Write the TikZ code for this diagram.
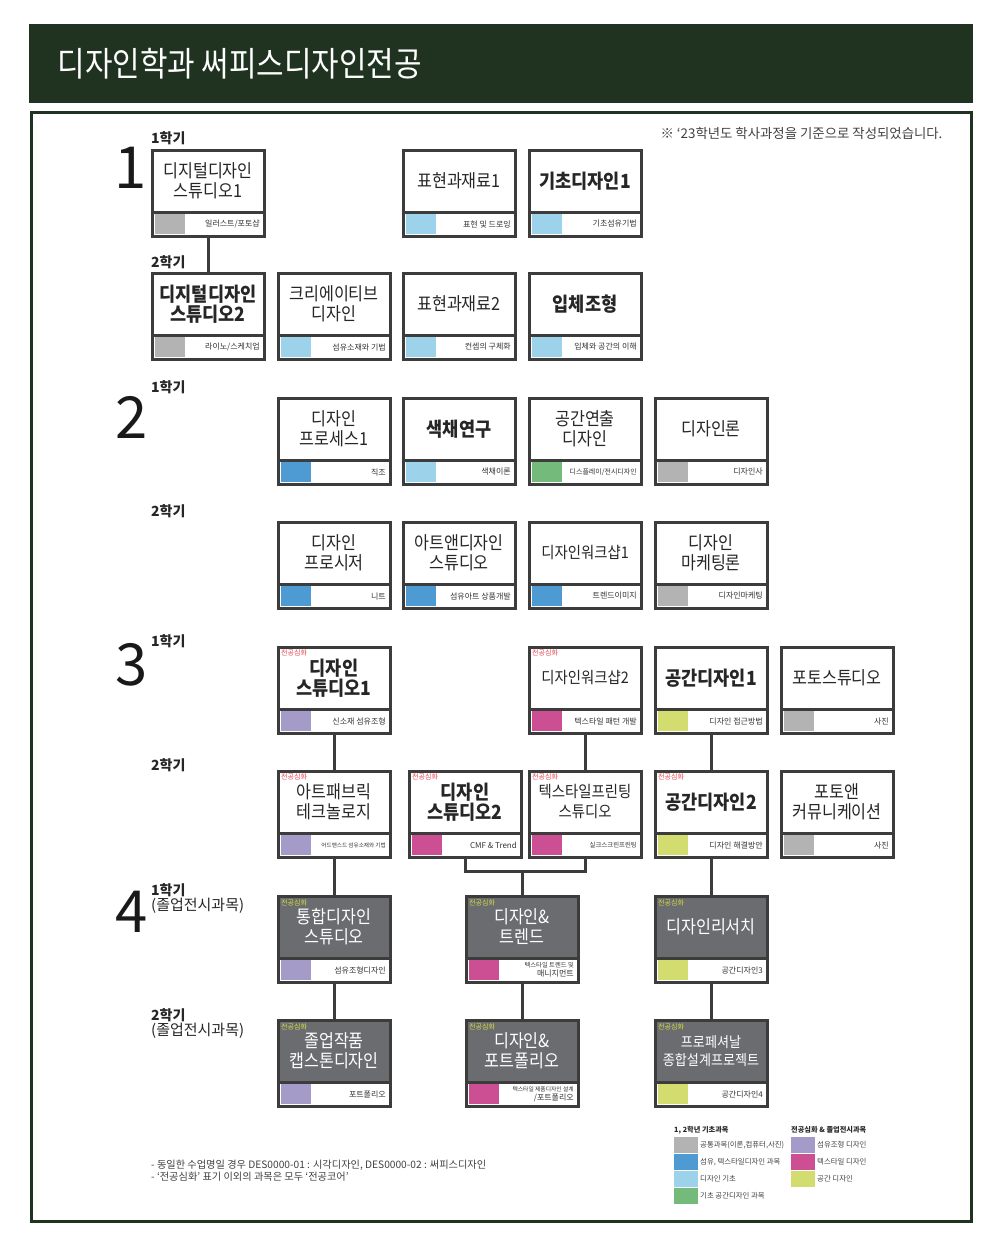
\documentclass[tikz,border=0pt]{standalone}
\usepackage{fontspec}
\setmainfont{Noto Sans CJK KR}
\newfontfamily\titrefont[FakeStretch=0.88]{Noto Sans CJK KR}
\newfontfamily\cartefont[FakeStretch=0.9]{Noto Sans CJK KR}

\definecolor{vertfonce}{HTML}{1F3320}
\definecolor{bordcarte}{HTML}{3C3C3C}
\definecolor{fondsombre}{HTML}{6A6C70}
\definecolor{cgris}{HTML}{B3B3B3}
\definecolor{cbleuclair}{HTML}{9DD3EA}
\definecolor{cbleu}{HTML}{4E9AD3}
\definecolor{cvert}{HTML}{74BA7A}
\definecolor{cviolet}{HTML}{A59BC9}
\definecolor{cmagenta}{HTML}{CC4F93}
\definecolor{clime}{HTML}{D3DC6E}
\definecolor{tagrouge}{HTML}{E8444F}
\definecolor{tagjaune}{HTML}{D8DE3E}

% carte de cours : nom, coin haut gauche, titre, couleur, sous-titre, fond, style du titre
\newcommand{\carte}[7]{%
  \node[carte, fill=#6] (#1) at (#2) {};
  \fill[white] ([shift={(0,62)}]#1.north west) rectangle (#1.south east);
  \fill[#4] ([shift={(3,64)}]#1.north west) rectangle ([shift={(33,84)}]#1.north west);
  \draw[bord] ([shift={(0,62)}]#1.north west) -- ([shift={(0,62)}]#1.north east);
  \draw[bord] (#1.north west) rectangle (#1.south east);
  \node[#7] (#1-titre) at ([shift={(0,31)}]#1.north) {#3};
  \node[soustitre] (#1-sous) at ([shift={(-4,74)}]#1.north east) {#5};
}

\begin{document}
\begin{tikzpicture}[x=1pt, y=-1pt,
    carte/.style={rectangle, minimum width=112, minimum height=86, anchor=north west, outer sep=0pt, inner sep=0pt},
    bord/.style={draw=bordcarte, line width=3pt},
    lien/.style={draw=bordcarte, line width=3pt},
    titre/.style={align=center, text=black!85, font=\cartefont\fontsize{18}{20}\selectfont},
    gras/.style={align=center, text=black!85, font=\cartefont\fontsize{19.5}{20}\selectfont\bfseries},
    clair/.style={align=center, text=white, font=\cartefont\fontsize{18}{20}\selectfont},
    serre/.style={font=\cartefont\fontsize{16}{20}\selectfont},
    soustitre/.style={anchor=east, align=right, inner sep=0pt, text=black!80, font=\fontsize{8}{9}\selectfont},
    tag/.style={anchor=north west, inner sep=0pt, font=\fontsize{7}{8}\selectfont},
    semestre/.style={anchor=west, inner sep=0pt, align=left, text=black!85, font=\fontsize{14}{17}\selectfont\bfseries},
    annee/.style={inner sep=0pt, text=black!90, font=\fontsize{58}{58}\selectfont},
    legende/.style={anchor=west, inner sep=0pt, text=black!75, font=\fontsize{7.4}{8}\selectfont}]
  \useasboundingbox (0,0) rectangle (1004,1242);

  % En-tete
  \fill[vertfonce] (29,24) rectangle (973,103);
  \node[anchor=west, text=white, font=\titrefont\fontsize{34}{34}\selectfont] (entete) at (54,64) {디자인학과 써피스디자인전공};
  \draw[vertfonce, line width=3pt] (31,112) rectangle (971,1221);
  \node[anchor=east, text=black!75, font=\fontsize{13.4}{14}\selectfont] (note) at (946,133) {※ `23학년도 학사과정을 기준으로 작성되었습니다.};

  % Annees et semestres
  \node[annee] (a1) at (131,168) {1};
  \node[annee] (a2) at (132,417) {2};
  \node[annee] (a3) at (132,665) {3};
  \node[annee] (a4) at (132,912) {4};
  \node[semestre] (s11) at (151,138) {1학기};
  \node[semestre] (s12) at (151,262) {2학기};
  \node[semestre] (s21) at (151,387) {1학기};
  \node[semestre] (s22) at (151,511) {2학기};
  \node[semestre] (s31) at (151,641) {1학기};
  \node[semestre] (s32) at (151,765) {2학기};
  \node[semestre, anchor=north west] (s41) at (151,883) {1학기\\[-2pt]\mdseries\fontsize{15}{17}\selectfont(졸업전시과목)};
  \node[semestre, anchor=north west] (s42) at (151,1008) {2학기\\[-2pt]\mdseries\fontsize{15}{17}\selectfont(졸업전시과목)};

  % 1학년
  \carte{dds1}{152,150}{디지털디자인\\스튜디오1}{cgris}{일러스트/포토샵}{white}{titre}
  \carte{pm1}{403,150}{표현과재료1}{cbleuclair}{표현 및 드로잉}{white}{titre}
  \carte{gd1}{529,150}{기초디자인1}{cbleuclair}{기초섬유기법}{white}{gras}
  \carte{dds2}{152,273}{디지털디자인\\스튜디오2}{cgris}{라이노/스케치업}{white}{gras}
  \carte{cd}{278,273}{크리에이티브\\디자인}{cbleuclair}{섬유소재와 기법}{white}{titre}
  \carte{pm2}{403,273}{표현과재료2}{cbleuclair}{컨셉의 구체화}{white}{titre}
  \carte{ip}{529,273}{입체조형}{cbleuclair}{입체와 공간의 이해}{white}{gras}

  % 2학년
  \carte{dp1}{278,398}{디자인\\프로세스1}{cbleu}{직조}{white}{titre}
  \carte{cr}{403,398}{색채연구}{cbleuclair}{색채이론}{white}{gras}
  \carte{sd}{529,398}{공간연출\\디자인}{cvert}{\fontsize{7}{8}\selectfont 디스플레이/전시디자인}{white}{titre}
  \carte{dt}{655,398}{디자인론}{cgris}{디자인사}{white}{titre}
  \carte{dps}{278,522}{디자인\\프로시저}{cbleu}{니트}{white}{titre}
  \carte{ads}{403,522}{아트앤디자인\\스튜디오}{cbleu}{섬유아트 상품개발}{white}{titre}
  \carte{dw1}{529,522}{디자인워크샵1}{cbleu}{트렌드이미지}{white}{titre, serre}
  \carte{dm}{655,522}{디자인\\마케팅론}{cgris}{디자인마케팅}{white}{titre}

  % 3학년
  \carte{ds1}{278,647}{디자인\\스튜디오1}{cviolet}{신소재 섬유조형}{white}{gras}
  \carte{dw2}{529,647}{디자인워크샵2}{cmagenta}{텍스타일 패턴 개발}{white}{titre, serre}
  \carte{sp1}{655,647}{공간디자인1}{clime}{디자인 접근방법}{white}{gras}
  \carte{ps}{781,647}{포토스튜디오}{cgris}{사진}{white}{titre}
  \carte{af}{278,771}{아트패브릭\\테크놀로지}{cviolet}{\fontsize{5.6}{6}\selectfont 어드밴스드 섬유소재와 기법}{white}{titre}
  \carte{ds2}{409,771}{디자인\\스튜디오2}{cmagenta}{CMF \& Trend}{white}{gras}
  \carte{tp}{529,771}{텍스타일프린팅\\스튜디오}{cmagenta}{\fontsize{6.4}{7}\selectfont 실크스크린프린팅}{white}{titre, serre}
  \carte{sp2}{655,771}{공간디자인2}{clime}{디자인 해결방안}{white}{gras}
  \carte{pc}{781,771}{포토앤\\커뮤니케이션}{cgris}{사진}{white}{titre}

  % 4학년
  \carte{ids}{278,896}{통합디자인\\스튜디오}{cviolet}{섬유조형디자인}{fondsombre}{clair}
  \carte{dtr}{466,896}{디자인\&\\트렌드}{cmagenta}{\fontsize{6.3}{7}\selectfont 텍스타일 트렌드 및\\매니지먼트}{fondsombre}{clair}
  \carte{dr}{655,896}{디자인리서치}{clime}{공간디자인3}{fondsombre}{clair}
  \carte{cap}{278,1020}{졸업작품\\캡스톤디자인}{cviolet}{포트폴리오}{fondsombre}{clair}
  \carte{dpf}{466,1020}{디자인\&\\포트폴리오}{cmagenta}{\fontsize{5.8}{6.6}\selectfont 텍스타일 제품디자인 설계\\/포트폴리오}{fondsombre}{clair}
  \carte{pro}{655,1020}{프로페셔날\\종합설계프로젝트}{clime}{공간디자인4}{fondsombre}{clair, font=\cartefont\fontsize{14.5}{18}\selectfont}

  % Mentions 전공심화
  \foreach \n in {ds1,dw2,af,ds2,tp,sp2}
    \node[tag, text=tagrouge] (tag-\n) at ([shift={(3,3)}]\n.north west) {전공심화};
  \foreach \n in {ids,dtr,dr,cap,dpf,pro}
    \node[tag, text=tagjaune] (tag-\n) at ([shift={(3,3)}]\n.north west) {전공심화};

  % Liens
  \draw[lien] (dds1.south) -- (dds2.north);
  \draw[lien] (ds1.south) -- (af.north);
  \draw[lien] (af.south) -- (ids.north);
  \draw[lien] (ids.south) -- (cap.north);
  \draw[lien] (dw2.south) -- (tp.north);
  \coordinate (jonction) at (522,871);
  \draw[lien] (ds2.south) |- (jonction) -| (tp.south);
  \draw[lien] (jonction) -- (dtr.north);
  \draw[lien] (dtr.south) -- (dpf.north);
  \draw[lien] (sp1.south) -- (sp2.north);
  \draw[lien] (sp2.south) -- (dr.north);
  \draw[lien] (dr.south) -- (pro.north);

  % Notes
  \node[anchor=north west, align=left, inner sep=0pt, text=black!75, font=\fontsize{10.2}{12}\selectfont] (notes) at (151,1160)
    {- 동일한 수업명일 경우 DES0000-01 : 시각디자인, DES0000-02 : 써피스디자인\\- `전공심화' 표기 이외의 과목은 모두 `전공코어'};

  % Legende
  \node[legende, text=black!85, font=\fontsize{7.2}{8}\selectfont\bfseries] (leg1) at (674,1130) {1, 2학년 기초과목};
  \node[legende, text=black!85, font=\fontsize{7.2}{8}\selectfont\bfseries] (leg2) at (791,1130) {전공심화 \& 졸업전시과목};
  \foreach \c/\t [count=\i] in {cgris/{공통과목(이론,컴퓨터,사진)}, cbleu/{섬유, 텍스타일디자인 과목}, cbleuclair/{디자인 기초}, cvert/{기초 공간디자인 과목}} {
    \fill[\c] (674,1120+17*\i) rectangle (698,1136+17*\i);
    \node[legende] (la\i) at (700,1128+17*\i) {\t};
  }
  \foreach \c/\t [count=\i] in {cviolet/{섬유조형 디자인}, cmagenta/{텍스타일 디자인}, clime/{공간 디자인}} {
    \fill[\c] (791,1120+17*\i) rectangle (815,1136+17*\i);
    \node[legende] (lb\i) at (817,1128+17*\i) {\t};
  }
\end{tikzpicture}
\end{document}
